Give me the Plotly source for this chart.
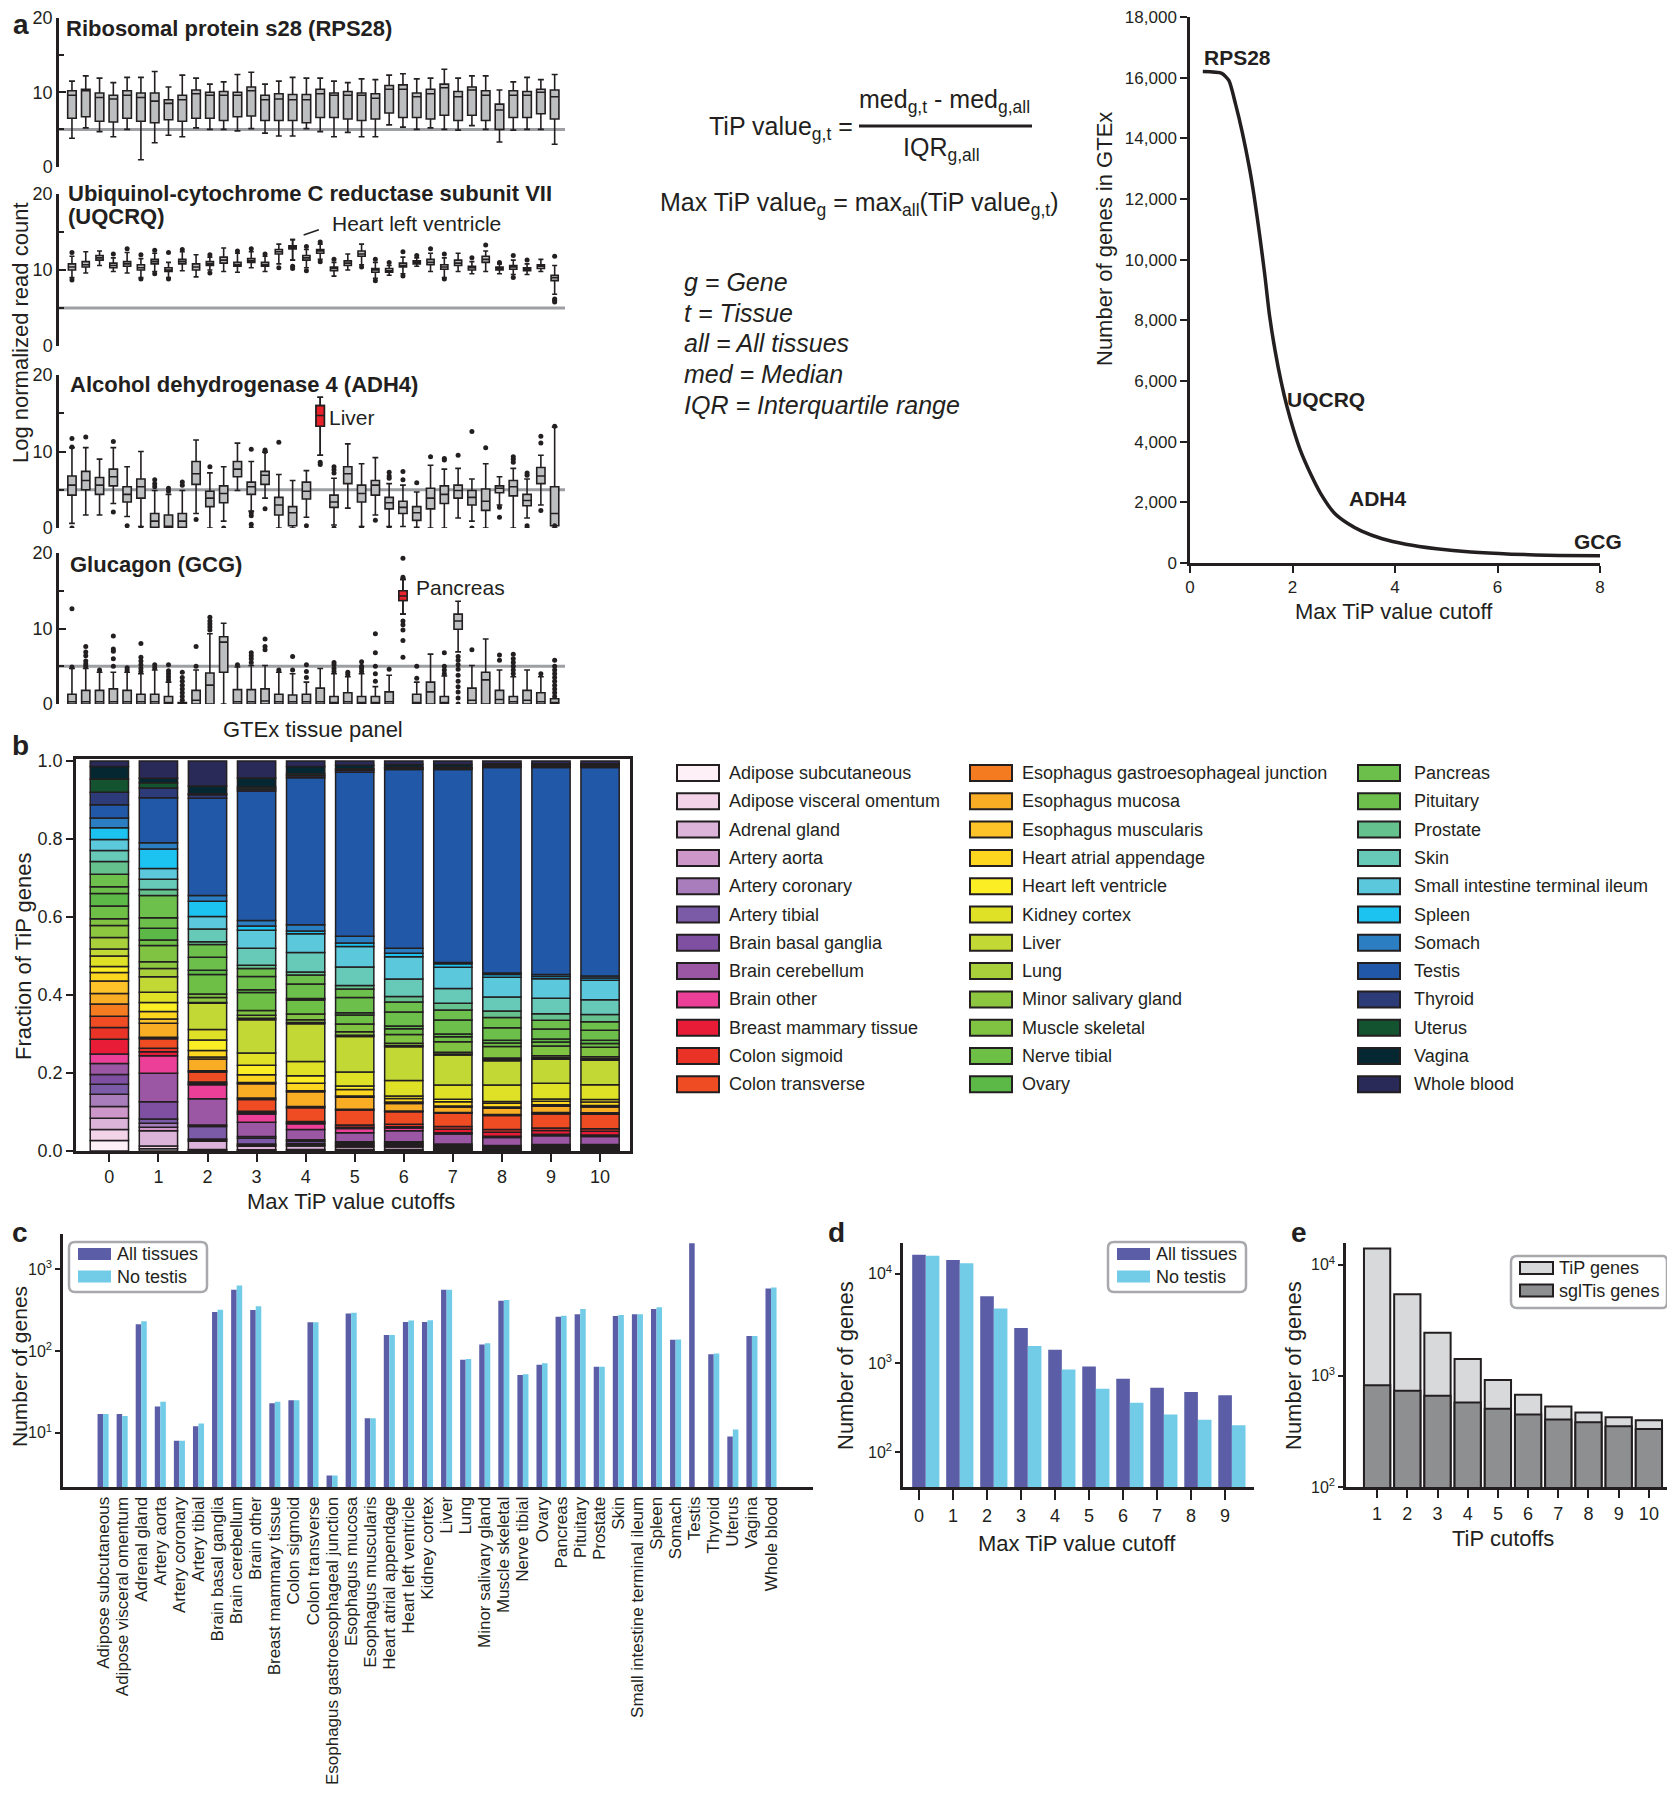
import plotly.graph_objects as go
import numpy as np

# The page is 1675 x 1800; the browser adds an 8 px body margin, so the figure itself is
# 16 px smaller and every layout position below is given in page pixels (offset by 8).
PAGE_W, PAGE_H = 1675, 1800
MARGIN = 8
FW, FH = PAGE_W - 2 * MARGIN, PAGE_H - 2 * MARGIN
FONT = "Liberation Sans, Arial, Helvetica, sans-serif"
INK = "#231f20"

# ---------------- shared categories ----------------
tissues = ["Adipose subcutaneous", "Adipose visceral omentum", "Adrenal gland", "Artery aorta",
           "Artery coronary", "Artery tibial", "Brain basal ganglia", "Brain cerebellum", "Brain other",
           "Breast mammary tissue", "Colon sigmoid", "Colon transverse",
           "Esophagus gastroesophageal junction", "Esophagus mucosa", "Esophagus muscularis",
           "Heart atrial appendage", "Heart left ventricle", "Kidney cortex", "Liver", "Lung",
           "Minor salivary gland", "Muscle skeletal", "Nerve tibial", "Ovary", "Pancreas", "Pituitary",
           "Prostate", "Skin", "Small intestine terminal ileum", "Spleen", "Somach", "Testis", "Thyroid",
           "Uterus", "Vagina", "Whole blood"]
tissue_colors = ["#fdf0f6", "#f2d3e8", "#ddb4d9", "#cd98c9", "#a97dbb", "#7b5ba8", "#7f50a2", "#9c57a4",
                 "#ec3f97", "#e91c38", "#ea3327", "#ef4c24", "#f47b20", "#f9ad25", "#fec328", "#fdd61f",
                 "#fcee25", "#dfe127", "#c2d935", "#a9cf3b", "#8dc63f", "#80c342", "#6dbf45", "#5db947",
                 "#6bbf4a", "#6dc04b", "#65c28f", "#67c9b8", "#5bc8dc", "#1cc3f1", "#2c7ec2", "#2158a7",
                 "#2d3b78", "#14532f", "#052731", "#2a2a58"]

# ---------------- panel a : box plots ----------------
box_positions = list(range(1, 37))

rps28_q1 = [6.5, 6.7, 6.1, 6.0, 6.5, 6.1, 5.9, 6.3, 6.1, 6.5, 6.5, 6.2, 6.7, 6.8, 6.2, 6.2, 6.2, 5.9,
            6.6, 6.6, 6.4, 6.2, 6.4, 7.2, 6.6, 6.6, 6.4, 6.9, 6.2, 6.9, 6.2, 5.0, 6.6, 6.6, 7.1, 6.4]
rps28_med = [9.6, 10.2, 9.3, 9.1, 9.6, 9.3, 8.8, 8.5, 9.0, 9.8, 9.6, 9.6, 9.6, 10.2, 9.0, 9.1, 9.0, 9.0,
             9.8, 9.6, 9.6, 9.6, 9.2, 10.4, 10.4, 9.4, 9.8, 10.6, 9.4, 10.3, 9.6, 7.6, 9.6, 9.6, 10.0, 9.4]
rps28_q3 = [10.2, 10.4, 9.9, 9.6, 10.2, 9.9, 9.9, 9.0, 9.6, 10.3, 10.0, 10.1, 10.0, 10.7, 9.6, 9.8, 9.7, 9.7,
            10.4, 9.9, 10.1, 9.9, 9.8, 10.9, 11.0, 9.9, 10.4, 11.1, 10.1, 10.7, 10.2, 8.4, 10.2, 10.1, 10.4, 10.3]
rps28_lo = [3.8, 5.2, 4.7, 4.0, 5.0, 0.9, 3.2, 4.2, 4.0, 5.2, 5.0, 5.0, 4.8, 5.1, 4.5, 4.1, 4.1, 5.1,
            4.7, 4.0, 4.6, 4.0, 4.0, 5.6, 5.3, 5.0, 5.2, 5.0, 4.9, 5.5, 5.0, 3.3, 4.9, 5.0, 5.0, 3.0]
rps28_hi = [11.5, 12.2, 11.9, 11.3, 12.0, 12.0, 12.8, 10.7, 12.3, 11.9, 11.1, 11.4, 12.4, 12.7, 11.1, 11.5,
            12.0, 11.9, 11.9, 11.5, 11.3, 11.8, 11.7, 12.3, 12.5, 11.8, 11.9, 13.1, 11.9, 12.2, 12.2, 10.3,
            11.4, 12.0, 11.7, 12.4]
rps28_out = [[] for _ in range(36)]

uqcrq_q1 = [10.0, 10.4, 11.3, 10.3, 10.5, 10.0, 10.8, 9.8, 10.8, 10.0, 10.6, 10.9, 10.5, 11.0, 10.5, 12.1,
            12.8, 11.3, 12.2, 9.9, 10.6, 11.8, 9.7, 9.7, 10.4, 10.8, 10.7, 10.1, 10.6, 10.0, 11.0, 10.0,
            10.1, 9.9, 10.2, 8.6]
uqcrq_med = [10.4, 10.7, 11.6, 10.6, 10.8, 10.3, 11.1, 10.0, 11.1, 10.4, 10.8, 11.3, 10.7, 11.2, 10.7, 12.4,
             13.0, 11.6, 12.5, 10.2, 10.9, 12.1, 10.0, 9.9, 10.6, 11.0, 11.0, 10.4, 10.9, 10.3, 11.4, 10.2,
             10.4, 10.1, 10.5, 9.0]
uqcrq_q3 = [10.8, 11.1, 11.9, 10.9, 11.1, 10.7, 11.4, 10.3, 11.4, 10.8, 11.1, 11.7, 11.0, 11.5, 11.0, 12.7,
            13.2, 11.9, 12.7, 10.4, 11.2, 12.5, 10.2, 10.2, 10.9, 11.2, 11.4, 10.7, 11.3, 10.5, 11.8, 10.4,
            10.6, 10.3, 10.7, 9.3]
uqcrq_lo = [9.0, 9.6, 10.6, 9.8, 9.6, 9.0, 9.8, 9.0, 9.9, 9.1, 10.0, 9.8, 9.7, 10.3, 9.8, 10.8, 11.3, 10.3,
            11.4, 9.2, 10.0, 10.7, 8.9, 9.3, 9.5, 10.5, 9.8, 9.0, 9.8, 9.5, 9.8, 9.5, 9.4, 9.4, 9.8, 6.8]
uqcrq_hi = [11.8, 12.4, 12.5, 11.6, 12.3, 11.5, 12.2, 11.0, 12.4, 12.0, 11.7, 12.9, 12.2, 12.4, 11.8, 13.4,
            14.0, 12.7, 13.4, 11.0, 12.1, 13.4, 11.0, 10.6, 11.7, 11.6, 12.2, 11.6, 12.2, 11.1, 12.5, 10.8,
            11.3, 10.8, 11.4, 10.6]
uqcrq_out = [[12.3, 8.7], [], [], [12.1], [12.8], [12.0, 8.8], [12.6, 9.5], [12.3, 8.8], [12.7], [],
             [12.0, 9.6], [], [12.5], [12.8], [12.1], [10.3], [10.2, 10.5], [13.1, 9.9], [13.7, 11.1],
             [11.4], [], [10.4], [11.4, 8.6], [11.0], [12.4, 9.2], [11.9], [12.8], [12.1, 8.8], [], [11.6],
             [13.3], [11.0], [11.9, 9.0], [11.3], [], [11.8, 6.2, 6.0, 5.8]]

adh4_q1 = [4.3, 5.0, 4.4, 5.5, 3.4, 3.9, 0.1, 0.1, 0.1, 5.7, 2.8, 3.3, 6.7, 4.4, 5.7, 1.7, 0.3, 3.8, 13.3,
           2.7, 5.8, 3.4, 4.3, 2.5, 1.9, 1.0, 2.5, 3.2, 3.9, 3.0, 2.3, 4.6, 4.2, 2.9, 5.8, 0.3]
adh4_med = [5.6, 6.2, 5.6, 6.7, 4.4, 5.4, 0.9, 0.1, 0.9, 7.1, 3.9, 4.5, 7.7, 5.4, 6.9, 3.0, 2.0, 4.8, 14.7,
            3.4, 7.1, 4.5, 5.6, 3.3, 2.7, 2.0, 3.9, 4.4, 4.9, 4.0, 3.5, 5.2, 5.4, 3.6, 6.8, 1.9]
adh4_q3 = [6.8, 7.4, 6.6, 7.7, 5.4, 6.4, 1.9, 1.7, 1.9, 8.7, 4.8, 5.5, 8.7, 6.0, 7.4, 4.0, 2.8, 6.0, 16.0,
           4.3, 8.0, 5.6, 6.2, 4.0, 3.5, 2.8, 5.2, 5.5, 5.6, 4.9, 5.1, 5.5, 6.2, 4.4, 7.9, 5.4]
adh4_lo = [0.6, 1.7, 1.7, 3.2, 1.5, 0.2, 0.0, 0.0, 0.0, 1.9, 0.0, 0.9, 4.9, 2.2, 3.9, 0.0, 0.0, 1.4, 9.5,
           0.4, 2.6, 0.2, 1.7, 0.2, 0.2, 0.1, 0.0, 0.0, 1.3, 0.9, 0.0, 3.0, 0.0, 1.3, 3.0, 0.0]
adh4_hi = [10.5, 10.5, 9.0, 10.5, 8.0, 10.0, 4.9, 4.4, 4.9, 11.5, 7.2, 8.0, 11.1, 8.7, 9.9, 7.0, 6.2, 7.5,
           17.1, 6.5, 11.0, 8.4, 9.2, 5.8, 5.6, 4.7, 8.2, 7.7, 7.8, 6.4, 8.4, 6.7, 7.8, 6.4, 9.5, 13.2]
adh4_out = [[11.7, 10.6, 0.0], [11.9], [], [11.3, 2.1], [0.3], [0.0], [6.3, 5.8, 5.4], [5.2, 4.8],
            [6.0, 5.6], [1.1], [8.0], [0.0], [], [10.3, 0.0, 0.5, 1.6, 2.0], [10.2, 10.0, 2.5], [11.2], [],
            [0.3], [8.6, 8.3], [8.0, 7.6, 7.2, 0.0], [], [0.0], [1.0], [7.3, 6.8, 6.5, 0.0], [7.4, 6.3],
            [5.9], [9.3], [9.1, 8.9], [9.5], [12.6, 0.0], [10.5], [2.7, 1.4], [9.3, 9.0, 8.6],
            [7.2, 6.9, 0.3, 0.0], [12.0, 11.1, 2.3], [13.3, 0.3]]

gcg_q1 = [0.0] * 11 + [4.2] + [0.0] * 12 + [13.7] + [0.0] * 3 + [9.9] + [0.0] * 7
gcg_med = [0.3, 0.3, 0.3, 0.3, 0.3, 0.3, 0.3, 0.2, 0.1, 0.5, 2.5, 8.2, 0.3, 0.3, 0.4, 0.3, 0.3, 0.3, 0.3,
           0.2, 0.3, 0.2, 0.2, 0.3, 14.3, 0.2, 1.6, 0.2, 11.0, 0.5, 3.2, 0.6, 0.3, 0.5, 0.3, 0.2]
gcg_q3 = [1.3, 1.8, 1.8, 2.0, 1.8, 1.3, 1.3, 1.0, 0.2, 1.8, 4.1, 8.9, 1.9, 1.9, 2.0, 1.3, 1.2, 1.3, 2.1,
          1.0, 1.5, 1.0, 1.0, 1.6, 15.0, 1.3, 2.9, 1.0, 11.9, 2.1, 4.2, 1.8, 1.0, 1.8, 1.5, 0.7]
gcg_lo = [0.0] * 24 + [11.9] + [0.0] * 3 + [6.9] + [0.0] * 7
gcg_hi = [4.7, 4.7, 4.2, 4.2, 4.2, 4.0, 4.5, 2.9, 0.2, 4.5, 9.3, 10.7, 4.9, 5.1, 5.1, 4.2, 4.0, 2.9, 4.7,
          4.0, 3.6, 4.0, 2.3, 3.8, 16.5, 2.9, 6.6, 3.7, 13.6, 5.1, 8.6, 4.5, 3.6, 4.5, 3.6, 0.5]
gcg_out = [[4.9, 12.6], [5.0, 5.3, 5.7, 6.4, 6.9, 7.6], [4.5], [5.0, 6.0, 7.0, 7.3, 9.0], [4.5, 4.8],
           [4.3, 4.7, 5.2, 5.7, 6.2, 8.0], [4.8, 5.2], [3.2, 3.6, 4.0, 4.4, 5.2],
           [0.5, 1.0, 1.5, 2.0, 2.5, 3.0, 3.5, 4.2], [5.0, 7.6], [9.8, 10.2, 10.6, 11.0, 11.5], [],
           [5.2], [5.5, 6.0, 6.4, 6.8], [7.2, 7.6, 8.6], [4.5], [4.5, 6.3], [3.5, 4.3, 5.2], [],
           [4.3, 4.7, 5.2, 5.5], [3.9, 4.2], [4.3, 4.7, 5.0, 5.6], [3.0, 4.0, 5.0, 6.8, 9.3], [4.6],
           [19.3, 16.8, 11.0, 10.5, 9.8, 8.4, 6.2], [3.4, 5.0], [], [4.0, 4.5, 5.0, 6.8],
           [6.3, 5.8, 5.2, 4.6, 3.8, 3.0, 2.3, 1.6, 0.8, 0.0], [7.2], [], [5.8, 6.5],
           [4.0, 4.5, 5.0, 5.5, 6.0, 6.6], [], [4.0], [1.0, 1.5, 2.0, 2.5, 3.0, 3.5, 4.0, 4.5, 5.0, 5.8]]

# ---------------- panel a : cumulative curve ----------------
curve_x = [0.25, 0.62, 0.76, 0.89, 1.02, 1.16, 1.25, 1.36, 1.46, 1.55, 1.66, 1.78, 1.89, 2.02, 2.15, 2.35,
           2.55, 2.82, 3.08, 3.35, 3.75, 4.21, 4.81, 5.48, 6.27, 7.20, 8.00]
curve_y = [16200, 16140, 15900, 15120, 14200, 13020, 12110, 10800, 9490, 8180, 7000, 5960, 5170, 4390,
           3730, 2950, 2290, 1640, 1300, 1050, 800, 620, 470, 360, 290, 250, 236]

# ---------------- panel b : fraction of TiP genes (per mille, bottom to top) ----------------
cutoffs_b = list(range(11))
frac_cut0 = [27, 28, 29, 30, 31, 26, 25, 28, 24, 38, 30, 29, 31, 27, 32, 22, 15, 27, 18, 29, 31, 17, 33, 32,
             17, 32, 33, 28, 28, 30, 25, 34, 32, 34, 32, 14]
frac_cut1 = [6, 7, 39, 9, 10, 11, 44, 73, 45, 10, 9, 24, 4, 36, 11, 19, 23, 26, 40, 21, 17, 42, 14, 30, 27,
             57, 15, 26, 28, 50, 16, 115, 25, 13, 12, 44]
frac_cut2 = [2, 2, 21, 3, 3, 32, 4, 67, 36, 3, 4, 26, 3, 30, 5, 17, 27, 27, 67, 2, 13, 9, 50, 11, 33, 33, 7,
             33, 32, 39, 15, 249, 9, 3, 20, 64]
frac_cut3 = [2, 1, 9, 3, 3, 15, 4, 37, 21, 3, 4, 30, 4, 37, 3, 20, 24, 32, 85, 4, 8, 12, 46, 7, 34, 21, 8,
             44, 46, 11, 14, 333, 5, 5, 23, 44]
frac_cut4 = [2, 2, 9, 3, 3, 6, 4, 26, 15, 2, 4, 35, 3, 38, 3, 19, 19, 37, 97, 3, 7, 15, 36, 4, 37, 23, 8, 50,
             48, 7, 16, 378, 5, 5, 19, 14]
frac_cut5 = [2, 2, 6, 3, 3, 4, 4, 23, 11, 3, 6, 38, 2, 31, 3, 17, 9, 36, 91, 3, 9, 20, 23, 6, 39, 22, 9, 47,
             53, 9, 17, 421, 5, 4, 9, 11]
frac_cut6 = [2, 2, 6, 3, 3, 4, 4, 28, 7, 3, 7, 32, 2, 19, 4, 9, 6, 40, 87, 3, 6, 22, 15, 7, 36, 26, 14, 45,
             57, 9, 13, 459, 3, 3, 7, 9]
frac_cut7 = [2, 2, 3, 2, 3, 3, 3, 26, 3, 9, 7, 34, 2, 14, 3, 11, 6, 37, 77, 3, 4, 27, 13, 7, 36, 26, 17, 38,
             55, 9, 3, 497, 3, 3, 7, 9]
frac_cut8 = [2, 1, 2, 2, 2, 2, 3, 21, 3, 10, 7, 36, 3, 16, 3, 10, 4, 43, 62, 3, 4, 30, 9, 7, 32, 26, 17, 36,
             51, 7, 4, 528, 3, 3, 4, 7]
frac_cut9 = [2, 2, 3, 2, 2, 3, 3, 22, 4, 10, 6, 36, 4, 16, 4, 9, 6, 40, 62, 4, 5, 25, 10, 8, 26, 22, 17, 40,
             50, 6, 5, 532, 3, 3, 4, 7]
frac_cut10 = [2, 2, 3, 2, 2, 3, 3, 20, 4, 10, 6, 37, 4, 15, 4, 9, 6, 38, 63, 4, 5, 24, 10, 8, 26, 22, 18, 38,
              50, 6, 5, 535, 3, 3, 4, 7]

# ---------------- panel c ----------------
c_all = [17, 17, 212, 21, 8, 12, 300, 562, 316, 23, 25, 224, 3, 288, 15, 157, 226, 226, 562, 78, 120, 411,
         51, 68, 262, 282, 64, 267, 282, 327, 137, 2080, 91, 9, 152, 581]
c_no_testis = [17, 16, 231, 24, 8, 13, 320, 631, 351, 24, 25, 224, 3, 294, 15, 157, 236, 238, 562, 80, 124,
               420, 52, 71, 270, 327, 64, 275, 282, 342, 138, None, 93, 11, 152, 598]

# ---------------- panel d ----------------
cutoffs_d = list(range(10))
d_all = [16400, 14300, 5600, 2480, 1410, 916, 671, 532, 475, 436]
d_no_testis = [16000, 13200, 4100, 1560, 849, 518, 360, 266, 232, 202]

# ---------------- panel e ----------------
cutoffs_e = list(range(1, 11))
e_tip = [14000, 5420, 2440, 1420, 920, 678, 531, 469, 425, 399]
e_sgl = [823, 736, 663, 577, 505, 449, 405, 383, 352, 333]

COL_ALL = "#5b5ea6"
COL_NOT = "#72cbe7"
COL_TIP = "#d8d9da"
COL_SGL = "#8e8f91"


def px(x):
    return min(max((x - MARGIN) / FW, 0.0), 1.0)


def py(y):
    return min(max(1 - (y - MARGIN) / FH, 0.0), 1.0)


def xd(a, b):
    return [px(a), px(b)]


def yd(top, bottom):
    return [py(bottom), py(top)]


fig = go.Figure()
layout = {}
annotations = []
shapes = []

# ---- panel a boxes ----
box_sets = [
    ("", rps28_q1, rps28_med, rps28_q3, rps28_lo, rps28_hi, rps28_out, None, 0.62, (18, 166.5)),
    ("2", uqcrq_q1, uqcrq_med, uqcrq_q3, uqcrq_lo, uqcrq_hi, uqcrq_out, 17, 0.52, (194, 346)),
    ("3", adh4_q1, adh4_med, adh4_q3, adh4_lo, adh4_hi, adh4_out, 19, 0.6, (375, 528)),
    ("4", gcg_q1, gcg_med, gcg_q3, gcg_lo, gcg_hi, gcg_out, 25, 0.6, (553, 704)),
]
for n, q1, med, q3, lo, hi, out, hl, bw, (top, bot) in box_sets:
    xa, ya = "x" + n, "y" + n
    shapes.append(dict(type="line", xref=xa + " domain", x0=0, x1=1, yref=ya, y0=5, y1=5,
                       line=dict(color="#9d9fa2", width=3), layer="below"))
    fig.add_trace(go.Box(x=box_positions, q1=q1, median=med, q3=q3, lowerfence=lo, upperfence=hi,
                         xaxis=xa, yaxis=ya, fillcolor="#bcbec0", line=dict(color=INK, width=1.6),
                         width=bw, whiskerwidth=0.7, boxpoints=False, showlegend=False, hoverinfo="skip"))
    if hl is not None:
        k = hl - 1
        fig.add_trace(go.Box(x=[box_positions[k]], q1=[q1[k]], median=[med[k]], q3=[q3[k]],
                             lowerfence=[lo[k]], upperfence=[hi[k]], xaxis=xa, yaxis=ya,
                             fillcolor="#e8212b", line=dict(color=INK, width=1.6), width=bw,
                             whiskerwidth=0.7, boxpoints=False, showlegend=False, hoverinfo="skip"))
    ox = [p for p, lst in zip(box_positions, out) for _ in lst]
    oy = [v for lst in out for v in lst]
    if ox:
        fig.add_trace(go.Scatter(x=ox, y=oy, mode="markers", xaxis=xa, yaxis=ya,
                                 marker=dict(color=INK, size=5), showlegend=False, hoverinfo="skip"))
    layout["xaxis" + n] = dict(domain=xd(59, 565), range=[0.06, 36.75], visible=False, anchor=ya,
                               automargin=False)
    layout["yaxis" + n] = dict(domain=yd(top, bot), range=[0, 20], anchor=xa, showline=True,
                               linecolor=INK, linewidth=2.5, ticks="inside", ticklen=7, tickwidth=2,
                               tickcolor=INK, tickvals=[0, 10, 20], showgrid=False, zeroline=False,
                               tickfont=dict(size=18), automargin=False, ticklabeloverflow="allow",
                               minor=dict(ticks="inside", ticklen=5, tickvals=[5, 15], tickcolor=INK,
                                          tickwidth=2))

# ---- panel a curve ----
fig.add_trace(go.Scatter(x=curve_x, y=curve_y, mode="lines", xaxis="x5", yaxis="y5",
                         line=dict(color=INK, width=3.5, shape="spline", smoothing=0.6),
                         showlegend=False, hoverinfo="skip"))
layout["xaxis5"] = dict(domain=xd(1190, 1600), range=[0, 8], anchor="y5", showline=True, linecolor=INK,
                        linewidth=2.5, ticks="outside", ticklen=7, tickwidth=2, tickcolor=INK,
                        tickvals=[0, 2, 4, 6, 8], showgrid=False, zeroline=False, tickfont=dict(size=17),
                        automargin=False)
layout["yaxis5"] = dict(domain=yd(17, 563), range=[0, 18000], anchor="x5", showline=True, linecolor=INK,
                        linewidth=2.5, ticks="outside", ticklen=7, tickwidth=2, tickcolor=INK,
                        tickvals=list(range(0, 18001, 2000)), tickformat=",", showgrid=False,
                        zeroline=False, tickfont=dict(size=17), automargin=False, ticklabeloverflow="allow")

# ---- panel b stacked bars ----
raw_b = np.array([frac_cut0, frac_cut1, frac_cut2, frac_cut3, frac_cut4, frac_cut5, frac_cut6, frac_cut7,
                  frac_cut8, frac_cut9, frac_cut10], dtype=float)
frac_b = raw_b / raw_b.sum(axis=1, keepdims=True)
base_b = np.cumsum(frac_b, axis=1) - frac_b
for i, name in enumerate(tissues):
    fig.add_trace(go.Bar(x=cutoffs_b, y=frac_b[:, i], base=base_b[:, i], xaxis="x6", yaxis="y6",
                         width=0.78, marker=dict(color=tissue_colors[i], line=dict(color=INK, width=1.5)),
                         showlegend=False, name=name, hoverinfo="skip"))
layout["xaxis6"] = dict(domain=xd(76, 630), range=[-0.68, 10.61], anchor="y6", showline=True, mirror=True,
                        linecolor=INK, linewidth=2.5, ticks="outside", ticklen=8, tickwidth=2,
                        tickcolor=INK, tickvals=cutoffs_b, showgrid=False, zeroline=False,
                        tickfont=dict(size=18), automargin=False)
layout["yaxis6"] = dict(domain=yd(759, 1151), range=[0, 1.005], anchor="x6", showline=True, mirror=True,
                        linecolor=INK, linewidth=2.5, ticks="outside", ticklen=7, tickwidth=2,
                        tickcolor=INK, tickvals=[0, 0.2, 0.4, 0.6, 0.8, 1.0], tickformat=".1f",
                        showgrid=False, zeroline=False, tickfont=dict(size=18), automargin=False)

# legend of panel b (3 columns x 12)
for i, name in enumerate(tissues):
    col, row = divmod(i, 12)
    sx = [677, 970, 1358][col]
    tx = [727, 1020, 1412][col]
    yc = 773 + row * 28.3
    shapes.append(dict(type="rect", xref="paper", yref="paper", x0=px(sx), x1=px(sx + 42),
                       y0=py(yc + 8), y1=py(yc - 8), fillcolor=tissue_colors[i],
                       line=dict(color=INK, width=2)))
    annotations.append(dict(text=name, x=px(tx), y=py(yc), xref="paper", yref="paper", xanchor="left",
                            yanchor="middle", showarrow=False, font=dict(size=18)))

# ---- panel c ----
idx_c = list(range(len(tissues)))
fig.add_trace(go.Bar(x=idx_c, y=c_all, offset=-0.29, width=0.29, xaxis="x7", yaxis="y7",
                     marker=dict(color=COL_ALL, line=dict(width=0)), name="All tissues", showlegend=False))
fig.add_trace(go.Bar(x=idx_c, y=c_no_testis, offset=0.0, width=0.29, xaxis="x7", yaxis="y7",
                     marker=dict(color=COL_NOT, line=dict(width=0)), name="No testis", showlegend=False))
log_ticks = dict(tickvals=[10, 100, 1000, 10000],
                 ticktext=["10<sup>1</sup>", "10<sup>2</sup>", "10<sup>3</sup>", "10<sup>4</sup>"])
layout["xaxis7"] = dict(domain=xd(63, 813), range=[-2.1, 37.2], anchor="y7", showline=True, linecolor=INK,
                        linewidth=3, ticks="", tickvals=idx_c, ticktext=tissues, tickangle=-90,
                        showgrid=False, zeroline=False, tickfont=dict(size=17), automargin=False,
                        ticklabeloverflow="allow")
layout["yaxis7"] = dict(domain=yd(1234, 1487), type="log", range=[0.337, 3.43], anchor="x7", showline=True,
                        linecolor=INK, linewidth=2.5, ticks="outside", ticklen=5, tickwidth=2,
                        tickcolor=INK, showgrid=False, zeroline=False, tickfont=dict(size=16),
                        automargin=False, **log_ticks)

# ---- panel d ----
fig.add_trace(go.Bar(x=cutoffs_d, y=d_all, offset=-0.2, width=0.4, xaxis="x8", yaxis="y8",
                     marker=dict(color=COL_ALL, line=dict(width=0)), name="All tissues", showlegend=False))
fig.add_trace(go.Bar(x=cutoffs_d, y=d_no_testis, offset=0.2, width=0.4, xaxis="x8", yaxis="y8",
                     marker=dict(color=COL_NOT, line=dict(width=0)), name="No testis", showlegend=False))
layout["xaxis8"] = dict(domain=xd(903, 1254), range=[-0.47, 9.85], anchor="y8", showline=True,
                        linecolor=INK, linewidth=3, ticks="outside", ticklen=10, tickwidth=2,
                        tickcolor=INK, tickvals=cutoffs_d, showgrid=False, zeroline=False,
                        tickfont=dict(size=18), automargin=False)
layout["yaxis8"] = dict(domain=yd(1243, 1487), type="log", range=[1.613, 4.346], anchor="x8", showline=True,
                        linecolor=INK, linewidth=2.5, ticks="outside", ticklen=5, tickwidth=2,
                        tickcolor=INK, showgrid=False, zeroline=False, tickfont=dict(size=16),
                        automargin=False, **log_ticks)

# ---- panel e ----
fig.add_trace(go.Bar(x=cutoffs_e, y=e_tip, width=0.87, xaxis="x9", yaxis="y9",
                     marker=dict(color=COL_TIP, line=dict(color=INK, width=2)), name="TiP genes",
                     showlegend=False))
fig.add_trace(go.Bar(x=cutoffs_e, y=e_sgl, width=0.87, xaxis="x9", yaxis="y9",
                     marker=dict(color=COL_SGL, line=dict(color=INK, width=2)), name="sglTis genes",
                     showlegend=False))
layout["xaxis9"] = dict(domain=xd(1346, 1667), range=[-0.03, 10.6], anchor="y9", showline=True,
                        linecolor=INK, linewidth=3, ticks="outside", ticklen=8, tickwidth=2,
                        tickcolor=INK, tickvals=cutoffs_e, showgrid=False, zeroline=False,
                        tickfont=dict(size=18), automargin=False)
layout["yaxis9"] = dict(domain=yd(1243, 1487), type="log", range=[2, 4.196], anchor="x9", showline=True,
                        linecolor=INK, linewidth=2.5, ticks="outside", ticklen=5, tickwidth=2,
                        tickcolor=INK, showgrid=False, zeroline=False, tickfont=dict(size=16),
                        automargin=False, **log_ticks)


# ---- custom rounded legends (c, d, e) ----
def rounded_box(x0, y0, x1, y1, r):
    def pts(x, y):
        return "%f,%f" % (px(x), py(y))
    path = ("M " + pts(x0 + r, y0) + " L " + pts(x1 - r, y0) + " Q " + pts(x1, y0) + " " + pts(x1, y0 + r) +
            " L " + pts(x1, y1 - r) + " Q " + pts(x1, y1) + " " + pts(x1 - r, y1) +
            " L " + pts(x0 + r, y1) + " Q " + pts(x0, y1) + " " + pts(x0, y1 - r) +
            " L " + pts(x0, y0 + r) + " Q " + pts(x0, y0) + " " + pts(x0 + r, y0) + " Z")
    shapes.append(dict(type="path", path=path, xref="paper", yref="paper",
                       line=dict(color="#a7a9ac", width=2.5), fillcolor="white"))


def legend_block(x0, y0, x1, y1, items, outlined):
    rounded_box(x0, y0, x1, y1, 6)
    for k, (label, colr) in enumerate(items):
        yc = y0 + 12 + k * 22.5
        shapes.append(dict(type="rect", xref="paper", yref="paper", x0=px(x0 + 9), x1=px(x0 + 42),
                           y0=py(yc + 6), y1=py(yc - 6), fillcolor=colr,
                           line=dict(color=INK if outlined else colr, width=2 if outlined else 0)))
        annotations.append(dict(text=label, x=px(x0 + 46), y=py(yc), xref="paper", yref="paper",
                                xanchor="left", yanchor="middle", showarrow=False, font=dict(size=18)))


legend_block(69, 1242, 207, 1292, [("All tissues", COL_ALL), ("No testis", COL_NOT)], False)
legend_block(1108, 1242, 1246, 1292, [("All tissues", COL_ALL), ("No testis", COL_NOT)], False)
legend_block(1511, 1256, 1669, 1308, [("TiP genes", COL_TIP), ("sglTis genes", COL_SGL)], True)


# ---- texts ----
def txt(s, x, y, size=19, xanchor="left", angle=0, yanchor="middle"):
    annotations.append(dict(text=s, x=px(x), y=py(y), xref="paper", yref="paper", xanchor=xanchor,
                            yanchor=yanchor, showarrow=False, textangle=angle, font=dict(size=size)))


for letter, x, y in [("a", 21, 24), ("b", 20, 746), ("c", 20, 1232), ("d", 836, 1232), ("e", 1299, 1232)]:
    txt("<b>%s</b>" % letter, x, y, size=28, xanchor="center")

txt("<b>Ribosomal protein s28 (RPS28)</b>", 64, 28, size=22)
txt("<b>Ubiquinol-cytochrome C reductase subunit VII</b>", 66, 193, size=22)
txt("<b>(UQCRQ)</b>", 66, 216, size=22)
txt("<b>Alcohol dehydrogenase 4 (ADH4)</b>", 68, 385, size=22)
txt("<b>Glucagon (GCG)</b>", 68, 564, size=22)
annotations.append(dict(text="Heart left ventricle", x=19.7, y=16.1, xref="x2", yref="y2", xanchor="left",
                        yanchor="middle", showarrow=False, font=dict(size=21)))
shapes.append(dict(type="line", xref="x2", yref="y2", x0=17.8, x1=18.9, y0=14.6, y1=15.3,
                   line=dict(color=INK, width=1.5)))
annotations.append(dict(text="Liver", x=19.5, y=14.5, xref="x3", yref="y3", xanchor="left",
                        yanchor="middle", showarrow=False, font=dict(size=21)))
annotations.append(dict(text="Pancreas", x=25.8, y=15.4, xref="x4", yref="y4", xanchor="left",
                        yanchor="middle", showarrow=False, font=dict(size=21)))
txt("GTEx tissue panel", 313, 729, size=22, xanchor="center")
txt("Log normalized read count", 20, 333, size=22, xanchor="center", angle=-90)

# formula block
txt("TiP value<sub>g,t</sub> =", 855, 128, size=25, xanchor="right")
txt("med<sub>g,t</sub> - med<sub>g,all</sub>", 944, 101, size=25, xanchor="center")
shapes.append(dict(type="line", xref="paper", yref="paper", x0=px(859), x1=px(1032), y0=py(126), y1=py(126),
                   line=dict(color=INK, width=3)))
txt("IQR<sub>g,all</sub>", 942, 149, size=25, xanchor="center")
txt("Max TiP value<sub>g</sub> = max<sub>all</sub>(TiP value<sub>g,t</sub>)", 658, 204, size=25)
for s, y in [("g = Gene", 282), ("t = Tissue", 313), ("all = All tissues", 343), ("med = Median", 374),
             ("IQR = Interquartile range", 405)]:
    txt("<i>%s</i>" % s, 682, y, size=25)

# curve labels and titles
for s, x, y in [("RPS28", 0.24, 16650), ("UQCRQ", 1.85, 5376), ("ADH4", 3.06, 2125), ("GCG", 7.45, 708)]:
    annotations.append(dict(text="<b>%s</b>" % s, x=x, y=y, xref="x5", yref="y5", xanchor="left",
                            yanchor="middle", showarrow=False, font=dict(size=21)))
txt("Max TiP value cutoff", 1394, 611, size=22, xanchor="center")
txt("Number of genes in GTEx", 1104, 239, size=22, xanchor="center", angle=-90)

# panel b titles
txt("Max TiP value cutoffs", 351, 1201, size=22, xanchor="center")
txt("Fraction of TiP genes", 23, 956, size=22, xanchor="center", angle=-90)

# panel c/d/e titles
txt("Number of genes", 19, 1367, size=21, xanchor="center", angle=-90)
txt("Number of genes", 845, 1366, size=22, xanchor="center", angle=-90)
txt("Number of genes", 1293, 1366, size=22, xanchor="center", angle=-90)
txt("Max TiP value cutoff", 1077, 1543, size=22, xanchor="center")
txt("TiP cutoffs", 1503, 1538, size=22, xanchor="center")

fig.update_layout(width=FW, height=FH, margin=dict(l=0, r=0, t=0, b=0, pad=0, autoexpand=False),
                  paper_bgcolor="white", plot_bgcolor="white", barmode="overlay", boxmode="overlay",
                  showlegend=False, font=dict(family=FONT, color=INK, size=17),
                  annotations=annotations, shapes=shapes, **layout)

fig.write_html("out.html", config={"displayModeBar": False})
